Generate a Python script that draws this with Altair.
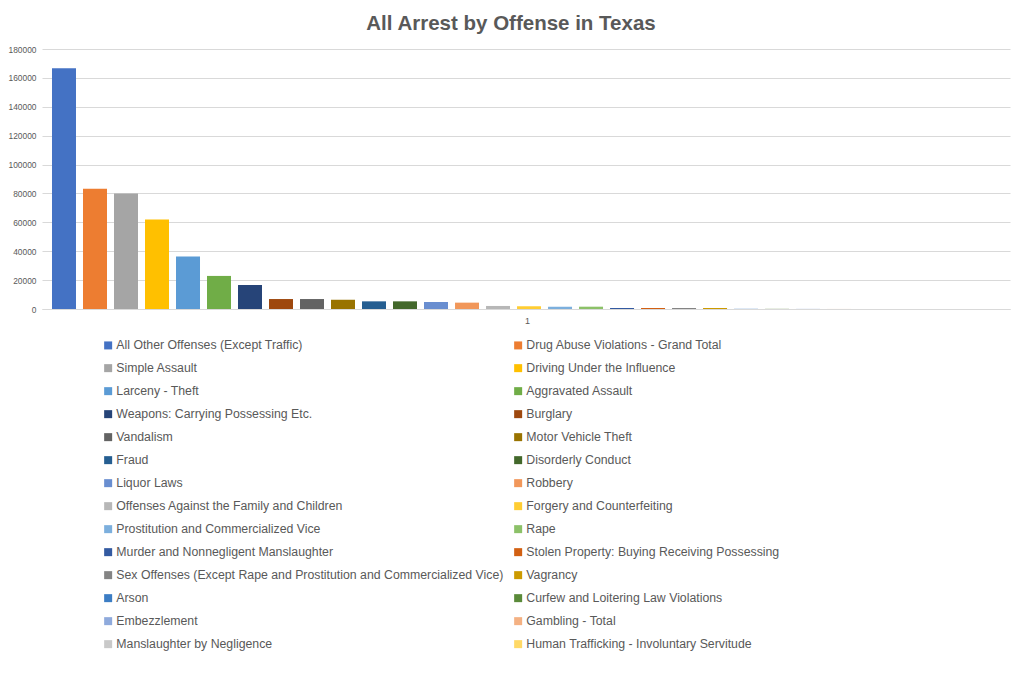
import altair as alt
import pandas as pd

offenses = [
    "All Other Offenses (Except Traffic)",
    "Drug Abuse Violations - Grand Total",
    "Simple Assault",
    "Driving Under the Influence",
    "Larceny - Theft",
    "Aggravated Assault",
    "Weapons: Carrying Possessing Etc.",
    "Burglary",
    "Vandalism",
    "Motor Vehicle Theft",
    "Fraud",
    "Disorderly Conduct",
    "Liquor Laws",
    "Robbery",
    "Offenses Against the Family and Children",
    "Forgery and Counterfeiting",
    "Prostitution and Commercialized Vice",
    "Rape",
    "Murder and Nonnegligent Manslaughter",
    "Stolen Property: Buying Receiving Possessing",
    "Sex Offenses (Except Rape and Prostitution and Commercialized Vice)",
    "Vagrancy",
    "Arson",
    "Curfew and Loitering Law Violations",
    "Embezzlement",
    "Gambling - Total",
    "Manslaughter by Negligence",
    "Human Trafficking - Involuntary Servitude",
]
arrests = [
    166600, 83200, 80000, 62000, 36300, 22900, 16600, 6900,
    6900, 6400, 5300, 5300, 4850, 4400, 2100, 1900,
    1600, 1600, 700, 700, 700, 700, 120, 100,
    80, 30, 20, 10,
]
colors = [
    "#4472C4", "#ED7D31", "#A5A5A5", "#FFC000", "#5B9BD5", "#70AD47",
    "#264478", "#9E480E", "#636363", "#997300", "#255E91", "#43682B",
    "#698ED0", "#F1975A", "#B7B7B7", "#FFCD33", "#7CAFDD", "#8CC168",
    "#335AA1", "#D26012", "#848484", "#CC9A00", "#3C7DC4", "#5A8A39",
    "#8FAADC", "#F4B183", "#C9C9C9", "#FFD966",
]
category = ["1"] * len(offenses)
y_ticks = [0, 20000, 40000, 60000, 80000, 100000, 120000, 140000, 160000, 180000]

df = pd.DataFrame({"cat": category, "offense": offenses, "arrests": arrests})

FONT = "Liberation Sans"
GREY = "#595959"

chart = (
    alt.Chart(df)
    .mark_bar()
    .encode(
        x=alt.X(
            "cat:N",
            title=None,
            scale=alt.Scale(paddingInner=0, paddingOuter=0.0621, align=0.0935),
            axis=alt.Axis(
                labelAngle=0, ticks=False, domainColor="#d9d9d9",
                labelColor=GREY, labelFontSize=9, labelFont=FONT, labelPadding=7,
                labelOffset=45,
            ),
        ),
        xOffset=alt.XOffset(
            "offense:N",
            sort=offenses,
            scale=alt.Scale(paddingInner=0.226, paddingOuter=0),
        ),
        y=alt.Y(
            "arrests:Q",
            title=None,
            scale=alt.Scale(domain=[0, 180000], nice=False),
            axis=alt.Axis(
                values=y_ticks, format="d", domain=False, ticks=False,
                gridColor="#d9d9d9", labelColor=GREY, labelFontSize=8.4,
                labelFont=FONT, labelPadding=6,
            ),
        ),
        color=alt.Color(
            "offense:N",
            sort=offenses,
            scale=alt.Scale(domain=offenses, range=colors),
            legend=alt.Legend(
                title=None, orient="none", legendX=60, legendY=290,
                columns=2, direction="horizontal",
                symbolType="square", symbolSize=64, symbolStrokeWidth=0,
                labelFont=FONT, labelFontSize=12.3, labelColor=GREY,
                labelLimit=600, labelOffset=2, rowPadding=10, columnPadding=8,
            ),
        ),
    )
    .properties(
        width=968,
        height=260,
        title=alt.TitleParams(
            "All Arrest by Offense in Texas", font=FONT, fontSize=20.5,
            fontWeight="bold", color=GREY, offset=11, dx=-15,
        ),
        autosize=alt.AutoSizeParams(type="none"),
        padding={"left": 34, "top": 41, "right": 6, "bottom": 370},
    )
    .configure_view(stroke=None)
)

chart.save("out.html", embed_options={"renderer": "svg", "actions": False})
